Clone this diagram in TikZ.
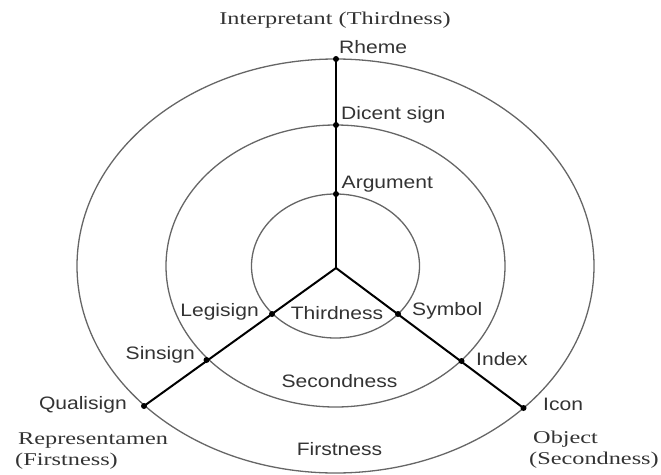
\documentclass[tikz,border=0pt]{standalone}
\usepackage{fontspec}
\setmainfont{Liberation Serif}[FakeStretch=1.35]
\newfontfamily\signfont{Liberation Sans}[FakeStretch=1.17]

\begin{document}
\begin{tikzpicture}[x=1pt,y=-1pt,
  ring/.style={draw=black!60, line width=1.3pt},
  spoke/.style={draw=black, line width=2pt},
  dot/.style={circle, fill=black, inner sep=0pt, minimum size=6pt},
  sign/.style={font=\signfont\fontsize{18}{20}\selectfont, text=black!80, inner sep=0pt},
  aspect/.style={font=\fontsize{18}{20}\selectfont, text=black!80, inner sep=0pt}]
\useasboundingbox (0,0) rectangle (661,474);
% rings
\draw[ring] (335.5,266) ellipse [x radius=258.5, y radius=207];
\draw[ring] (335.5,266) ellipse [x radius=169.5, y radius=141];
\draw[ring] (335.5,266) ellipse [x radius=84, y radius=72];
% hub and points
\coordinate (hub) at (336,268);
\node[dot] (rheme) at (336,59) {};
\node[dot] (dicent) at (336,125) {};
\node[dot] (argument) at (336,194) {};
\node[dot] (legisign) at (272,314) {};
\node[dot] (sinsign) at (206.5,360) {};
\node[dot] (qualisign) at (144,406) {};
\node[dot] (symbol) at (398,314) {};
\node[dot] (index) at (461.5,361) {};
\node[dot] (icon) at (523.5,408) {};
% spokes
\draw[spoke] (hub) -- (rheme.center);
\draw[spoke] (hub) -- (qualisign.center);
\draw[spoke] (hub) -- (icon.center);
% labels
\node[aspect, anchor=base] (interp) at (335,24) {Interpretant (Thirdness)};
\node[sign, anchor=base west] (rhemelab) at (339,53) {Rheme};
\node[sign, anchor=base west] (dicentlab) at (341,119) {Dicent sign};
\node[sign, anchor=base west] (argumentlab) at (341.5,188) {Argument};
\node[sign, anchor=base east] (legisignlab) at (259,316) {Legisign};
\node[sign, anchor=base] (thirdlab) at (337,319) {Thirdness};
\node[sign, anchor=base west] (symbollab) at (412,315) {Symbol};
\node[sign, anchor=base east] (sinsignlab) at (195,359) {Sinsign};
\node[sign, anchor=base west] (indexlab) at (476,365) {Index};
\node[sign, anchor=base] (secondlab) at (339.5,387) {Secondness};
\node[sign, anchor=base east] (qualisignlab) at (127,409) {Qualisign};
\node[sign, anchor=base west] (iconlab) at (543,410) {Icon};
\node[sign, anchor=base] (firstlab) at (339.5,455) {Firstness};
\node[aspect, anchor=base west] (repr) at (18,444) {Representamen};
\node[aspect, anchor=base west] (reprfirst) at (15,465) {(Firstness)};
\node[aspect, anchor=base west] (object) at (533,443) {Object};
\node[aspect, anchor=base west] (objsecond) at (529,464) {(Secondness)};
\end{tikzpicture}
\end{document}
